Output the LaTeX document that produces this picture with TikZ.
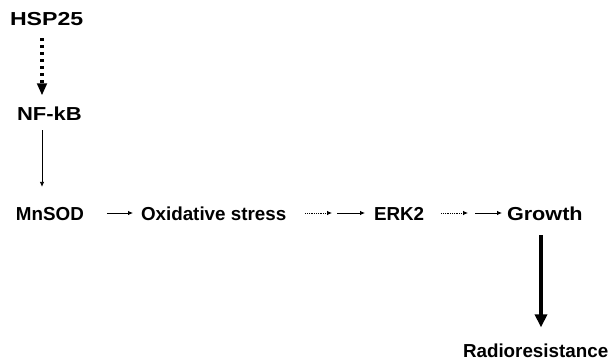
\documentclass[tikz,border=0pt]{standalone}
\usepackage{fontspec}
\setmainfont{Liberation Sans}
\usetikzlibrary{arrows.meta,calc}
\begin{document}
\begin{tikzpicture}[x=1pt,y=-1pt,
  lbl/.style={inner sep=0pt,outer sep=0pt,anchor=base west,font=\bfseries\fontsize{18.8}{20}\selectfont},
  thinarrow/.style={line width=0.8pt,-{Latex[length=5pt,width=4.5pt]}},
  dotarrow/.style={line width=0.8pt,dash pattern=on 1pt off 0.8pt,-{Latex[length=5pt,width=4.5pt]}},
  thickdot/.style={line width=3.6pt,dash pattern=on 3pt off 4pt,-{Triangle[length=12pt,width=9.5pt]}},
  thickarrow/.style={line width=4pt,-{Triangle[length=13pt,width=12pt]}}]
\useasboundingbox (0,0) rectangle (611,364);
\node[lbl] (hsp) at (10,25) {\scalebox{1.23}[1]{HSP25}};
\node[lbl] (nf) at (17,120) {\scalebox{1.17}[1]{NF-kB}};
\node[lbl] (mn) at (16,220) {MnSOD};
\node[lbl] (ox) at (141,220) {Oxidative stress};
\node[lbl] (erk) at (374,220) {ERK2};
\node[lbl] (gr) at (507,220) {\scalebox{1.15}[1]{Growth}};
\node[lbl] (rad) at (463,357) {Radioresistance};
\coordinate (v1) at (42,0);
\coordinate (v2) at (541,0);
\coordinate (j1) at (334.5,213);
\coordinate (j2) at (471.5,213);
\draw[thickdot,shorten <=13pt,shorten >=11pt] (hsp.south -| v1) -- (nf.north -| v1);
\draw[thinarrow,shorten <=10pt,shorten >=20pt] (nf.south -| v1) -- (mn.north -| v1);
\draw[thinarrow] ([xshift=23pt,yshift=7pt]mn.base east) -- ([xshift=-8pt,yshift=7pt]ox.base west);
\draw[dotarrow] ([xshift=19pt,yshift=7pt]ox.base east) -- ([xshift=-2.5pt]j1);
\draw[thinarrow] ([xshift=2.5pt]j1) -- ([xshift=-9pt,yshift=7pt]erk.base west);
\draw[dotarrow] ([xshift=17pt,yshift=7pt]erk.base east) -- ([xshift=-3.5pt]j2);
\draw[thinarrow] ([xshift=3.5pt]j2) -- ([xshift=-5pt,yshift=7pt]gr.base west);
\draw[thickarrow,shorten <=15pt,shorten >=16pt] (gr.south -| v2) -- (rad.north -| v2);
\end{tikzpicture}
\end{document}
